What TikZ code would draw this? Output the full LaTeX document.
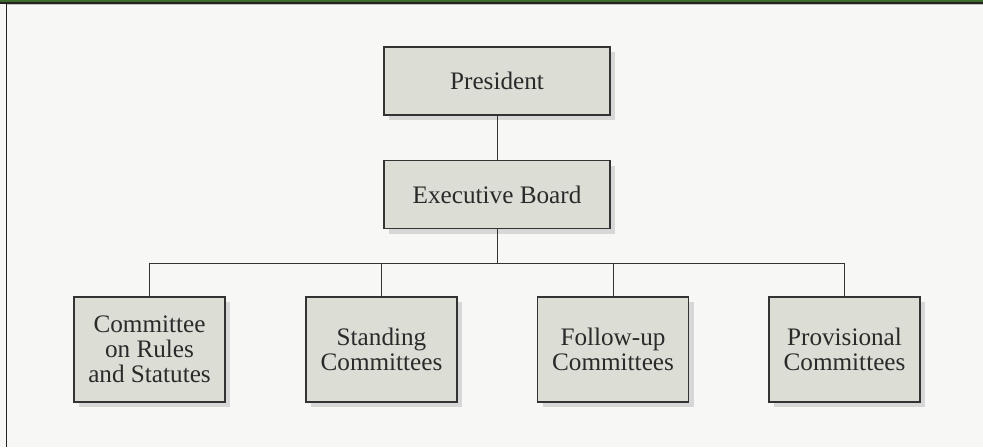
\documentclass[tikz,border=0pt]{standalone}
\usepackage{fontspec}
\setmainfont{Liberation Serif}
\usetikzlibrary{positioning, shadows}

\definecolor{pagebg}{HTML}{F7F7F5}
\definecolor{boxfill}{HTML}{DCDED5}
\definecolor{boxline}{HTML}{333333}
\definecolor{shadowgray}{HTML}{D7D7D7}
\definecolor{bandgreen}{HTML}{3D6B2E}
\definecolor{banddark}{HTML}{23261F}
\definecolor{textdark}{HTML}{2A2A2A}

\begin{document}
\begin{tikzpicture}[x=0.5pt, y=-0.5pt,
    orgbox/.style={draw=boxline, line width=0.6pt, fill=boxfill, text=textdark,
      align=center, inner sep=0pt,
      font=\fontsize{12.6}{12.6}\selectfont,
      drop shadow={shadow xshift=2.5pt, shadow yshift=-2.5pt, fill=shadowgray, opacity=1}},
    topbox/.style={orgbox, minimum width=113pt, minimum height=34pt},
    unitbox/.style={orgbox, minimum width=75.5pt, minimum height=52.5pt},
    link/.style={draw=boxline, line width=0.5pt}]

    % Page and frame
    \useasboundingbox (0,0) rectangle (983,447);
    \fill[pagebg] (0,0) rectangle (983,447);
    \fill[bandgreen] (0,0) rectangle (983,2.2);
    \fill[banddark] (0,2.2) rectangle (983,4.2);
    \fill[black!25] (7,4.2) rectangle (983,5);
    \fill[banddark] (5.8,2.2) rectangle (7.3,447);

    % Top of the chart
    \node[topbox] (president) at (497,81) {President};
    \node[topbox] (board) at (497,194.5) {Executive Board};

    % Committees
    \node[unitbox] (rules) at (149.5,349.5) {Committee\\on Rules\\and Statutes};
    \node[unitbox] (standing) at (381.5,349.5) {Standing\\Committees};
    \node[unitbox] (followup) at (613,349.5) {Follow-up\\Committees};
    \node[unitbox] (provisional) at (844.5,349.5) {Provisional\\Committees};

    % Connectors
    \coordinate (bus) at (497,263);
    \draw[link] (president) -- (board);
    \draw[link] (board) -- (bus);
    \draw[link] (bus -| rules) -- (bus -| provisional);
    \foreach \n in {rules, standing, followup, provisional} {
      \draw[link] (bus -| \n) -- (\n.north);
    }
  \end{tikzpicture}
\end{document}
